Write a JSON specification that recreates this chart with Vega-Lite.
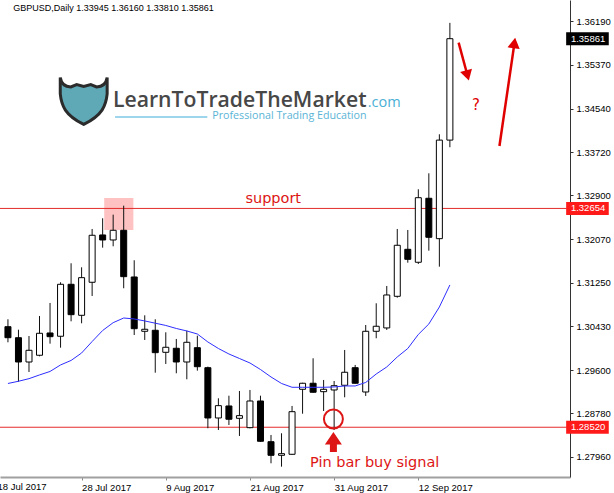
{
  "$schema": "https://vega.github.io/schema/vega-lite/v6.json",
  "width": 570,
  "height": 477,
  "autosize": {"type": "none"},
  "padding": {"left": 0, "top": 0, "right": 44, "bottom": 16},
  "background": "white",
  "config": {"view": {"stroke": null}, "axis": {"grid": false}},
  "data": {"values": [{}]},
  "resolve": {"axis": {"x": "independent", "y": "independent"}},
  "datasets": {
    "candles": [
      {"date": "2017-07-19", "i": 0, "open": 1.30420, "high": 1.30560, "low": 1.30125, "close": 1.30212, "ma": 1.29347},
      {"date": "2017-07-20", "i": 1, "open": 1.30212, "high": 1.30363, "low": 1.29381, "close": 1.29753, "ma": 1.29389},
      {"date": "2017-07-21", "i": 2, "open": 1.29753, "high": 1.30244, "low": 1.29564, "close": 1.29974, "ma": 1.29438},
      {"date": "2017-07-24", "i": 3, "open": 1.29880, "high": 1.30622, "low": 1.29860, "close": 1.30295, "ma": 1.29508},
      {"date": "2017-07-25", "i": 4, "open": 1.30301, "high": 1.30868, "low": 1.30099, "close": 1.30231, "ma": 1.29574},
      {"date": "2017-07-26", "i": 5, "open": 1.30239, "high": 1.31259, "low": 1.30023, "close": 1.31221, "ma": 1.29697},
      {"date": "2017-07-27", "i": 6, "open": 1.31221, "high": 1.31618, "low": 1.30522, "close": 1.30647, "ma": 1.29782},
      {"date": "2017-07-28", "i": 7, "open": 1.30635, "high": 1.31542, "low": 1.30484, "close": 1.31346, "ma": 1.29923},
      {"date": "2017-07-31", "i": 8, "open": 1.31259, "high": 1.32266, "low": 1.31000, "close": 1.32147, "ma": 1.30140},
      {"date": "2017-08-01", "i": 9, "open": 1.32153, "high": 1.32468, "low": 1.31913, "close": 1.32058, "ma": 1.30348},
      {"date": "2017-08-02", "i": 10, "open": 1.32058, "high": 1.32536, "low": 1.31939, "close": 1.32241, "ma": 1.30496},
      {"date": "2017-08-03", "i": 11, "open": 1.32241, "high": 1.32706, "low": 1.31146, "close": 1.31365, "ma": 1.30584},
      {"date": "2017-08-04", "i": 12, "open": 1.31359, "high": 1.31675, "low": 1.30263, "close": 1.30382, "ma": 1.30566},
      {"date": "2017-08-07", "i": 13, "open": 1.30333, "high": 1.30635, "low": 1.30169, "close": 1.30371, "ma": 1.30528},
      {"date": "2017-08-08", "i": 14, "open": 1.30352, "high": 1.30560, "low": 1.29551, "close": 1.29929, "ma": 1.30486},
      {"date": "2017-08-09", "i": 15, "open": 1.29936, "high": 1.30314, "low": 1.29715, "close": 1.30031, "ma": 1.30443},
      {"date": "2017-08-10", "i": 16, "open": 1.30012, "high": 1.30188, "low": 1.29540, "close": 1.29753, "ma": 1.30386},
      {"date": "2017-08-11", "i": 17, "open": 1.29753, "high": 1.30345, "low": 1.29426, "close": 1.30125, "ma": 1.30339},
      {"date": "2017-08-14", "i": 18, "open": 1.30023, "high": 1.30250, "low": 1.29589, "close": 1.29664, "ma": 1.30282},
      {"date": "2017-08-15", "i": 19, "open": 1.29645, "high": 1.29665, "low": 1.28501, "close": 1.28695, "ma": 1.30131},
      {"date": "2017-08-16", "i": 20, "open": 1.28695, "high": 1.29067, "low": 1.28468, "close": 1.28928, "ma": 1.30008},
      {"date": "2017-08-17", "i": 21, "open": 1.28922, "high": 1.29116, "low": 1.28563, "close": 1.28671, "ma": 1.29904},
      {"date": "2017-08-18", "i": 22, "open": 1.28689, "high": 1.29205, "low": 1.28355, "close": 1.28739, "ma": 1.29819},
      {"date": "2017-08-21", "i": 23, "open": 1.28512, "high": 1.29224, "low": 1.28500, "close": 1.29016, "ma": 1.29734},
      {"date": "2017-08-22", "i": 24, "open": 1.29016, "high": 1.29116, "low": 1.28245, "close": 1.28255, "ma": 1.29611},
      {"date": "2017-08-23", "i": 25, "open": 1.28247, "high": 1.28374, "low": 1.27839, "close": 1.27990, "ma": 1.29470},
      {"date": "2017-08-24", "i": 26, "open": 1.27990, "high": 1.28406, "low": 1.27775, "close": 1.28021, "ma": 1.29347},
      {"date": "2017-08-25", "i": 27, "open": 1.28009, "high": 1.28922, "low": 1.28000, "close": 1.28814, "ma": 1.29275},
      {"date": "2017-08-28", "i": 28, "open": 1.29237, "high": 1.29360, "low": 1.28776, "close": 1.29351, "ma": 1.29275},
      {"date": "2017-08-29", "i": 29, "open": 1.29351, "high": 1.29823, "low": 1.29175, "close": 1.29181, "ma": 1.29275},
      {"date": "2017-08-30", "i": 30, "open": 1.29192, "high": 1.29413, "low": 1.28827, "close": 1.29237, "ma": 1.29275},
      {"date": "2017-08-31", "i": 31, "open": 1.29224, "high": 1.29394, "low": 1.28468, "close": 1.29305, "ma": 1.29281},
      {"date": "2017-09-01", "i": 32, "open": 1.29313, "high": 1.29980, "low": 1.29086, "close": 1.29559, "ma": 1.29300},
      {"date": "2017-09-04", "i": 33, "open": 1.29645, "high": 1.29697, "low": 1.29345, "close": 1.29351, "ma": 1.29300},
      {"date": "2017-09-05", "i": 34, "open": 1.29186, "high": 1.30452, "low": 1.29111, "close": 1.30333, "ma": 1.29366},
      {"date": "2017-09-06", "i": 35, "open": 1.30333, "high": 1.30862, "low": 1.30201, "close": 1.30428, "ma": 1.29526},
      {"date": "2017-09-07", "i": 36, "open": 1.30396, "high": 1.31189, "low": 1.30358, "close": 1.31019, "ma": 1.29659},
      {"date": "2017-09-08", "i": 37, "open": 1.30994, "high": 1.32266, "low": 1.30968, "close": 1.31958, "ma": 1.29848},
      {"date": "2017-09-11", "i": 38, "open": 1.31882, "high": 1.32247, "low": 1.31629, "close": 1.31693, "ma": 1.30008},
      {"date": "2017-09-12", "i": 39, "open": 1.31637, "high": 1.33016, "low": 1.31605, "close": 1.32857, "ma": 1.30273},
      {"date": "2017-09-13", "i": 40, "open": 1.32846, "high": 1.33318, "low": 1.31856, "close": 1.32109, "ma": 1.30471},
      {"date": "2017-09-14", "i": 41, "open": 1.32083, "high": 1.34055, "low": 1.31554, "close": 1.33945, "ma": 1.30792},
      {"date": "2017-09-15", "i": 42, "open": 1.33945, "high": 1.36160, "low": 1.33810, "close": 1.35861, "ma": 1.31208}
    ],
    "levels": [{"level": 1.32654}, {"level": 1.28520}]
  },
  "layer": [
    {
      "mark": {"type": "rect", "color": "#ffc2c2"},
      "encoding": {
        "x": {"datum": 9.15, "type": "quantitative", "axis": null},
        "x2": {"datum": 11.92},
        "y": {"datum": 1.32852, "type": "quantitative", "axis": null},
        "y2": {"datum": 1.32247}
      }
    },
    {
      "data": {"name": "levels"},
      "mark": {"type": "rule", "color": "#e32b2b", "strokeWidth": 1},
      "encoding": {"y": {"field": "level", "type": "quantitative", "axis": null}}
    },
    {
      "data": {"name": "candles"},
      "mark": {"type": "rule", "color": "#111111", "strokeWidth": 1},
      "encoding": {
        "x": {"field": "i", "type": "quantitative", "title": null,
          "scale": {"domain": [-0.28, 52.94], "nice": false, "zero": false},
          "axis": {"orient": "bottom", "values": [7, 15, 23, 31, 39],
            "labelExpr": "datum.value == 7 ? '28 Jul 2017' : datum.value == 15 ? '9 Aug 2017' : datum.value == 23 ? '21 Aug 2017' : datum.value == 31 ? '31 Aug 2017' : '12 Sep 2017'",
            "labelAlign": "left", "labelFlush": false, "labelOverlap": false, "labelFont": "Liberation Sans", "labelFontSize": 9.5, "labelColor": "#000000",
            "labelPadding": 2, "tickSize": 3, "tickColor": "#888888", "domainColor": "#a0a0a0", "domainWidth": 2}},
        "y": {"field": "low", "type": "quantitative", "title": null,
          "scale": {"domain": [1.2758, 1.36592], "nice": false, "zero": false},
          "axis": {"orient": "right", "values": [1.2796, 1.2878, 1.296, 1.3043, 1.3125, 1.3207, 1.329, 1.3372, 1.3454, 1.3537, 1.3619],
            "format": ".5f", "labelFont": "Liberation Sans", "labelFontSize": 9.5, "labelColor": "#000000", "labelFlush": false, "labelOverlap": false,
            "labelPadding": 3, "tickSize": 3, "tickColor": "#333333", "domainColor": "#333333", "domainWidth": 1}},
        "y2": {"field": "high"}
      }
    },
    {
      "data": {"name": "candles"},
      "mark": {"type": "bar", "width": 6, "stroke": "#000000", "strokeWidth": 1},
      "encoding": {
        "x": {"field": "i", "type": "quantitative", "axis": null},
        "y": {"field": "open", "type": "quantitative", "axis": null},
        "y2": {"field": "close"},
        "fill": {"condition": {"test": "datum.close >= datum.open", "value": "#ffffff"}, "value": "#000000"}
      }
    },
    {
      "data": {"name": "candles"},
      "mark": {"type": "line", "color": "#2e2eff", "strokeWidth": 1},
      "encoding": {
        "x": {"field": "i", "type": "quantitative", "axis": null},
        "y": {"field": "ma", "type": "quantitative", "axis": null}
      }
    },
    {
      "mark": {"type": "point", "shape": "M -1 -1 C -0.95 -0.7 -0.8 -0.6 -0.55 -0.6 L -0.3 -0.7 L 0 -0.62 L 0.3 -0.7 L 0.55 -0.6 C 0.8 -0.6 0.95 -0.7 1 -1 L 1 -0.3 C 0.95 0.2 0.8 0.6 0 1 C -0.8 0.6 -0.95 0.2 -1 -0.3 Z", "size": 2200, "filled": true, "fill": "#5fa8b6", "stroke": "#2b2b2b", "strokeWidth": 3, "opacity": 1},
      "encoding": {"x": {"datum": 7.2, "axis": null}, "y": {"datum": 1.34684, "axis": null}}
    },
    {
      "mark": {"type": "text", "text": "LearnToTradeTheMarket", "font": "Open Sans", "fontWeight": 600, "fontSize": 21.2, "color": "#474747", "align": "right", "baseline": "alphabetic"},
      "encoding": {"x": {"datum": 34.08, "axis": null}, "y": {"datum": 1.34571, "axis": null}}
    },
    {
      "mark": {"type": "text", "text": ".com", "font": "Open Sans", "fontSize": 14.5, "color": "#4bb0d5", "align": "left", "baseline": "alphabetic"},
      "encoding": {"x": {"datum": 34.2, "axis": null}, "y": {"datum": 1.34571, "axis": null}}
    },
    {
      "mark": {"type": "text", "text": "Professional Trading Education", "font": "Open Sans", "fontSize": 10.7, "color": "#5ab4d6", "align": "right", "baseline": "alphabetic"},
      "encoding": {"x": {"datum": 34.08, "axis": null}, "y": {"datum": 1.34344, "axis": null}}
    },
    {
      "mark": {"type": "rule", "color": "#7cc8e6", "strokeWidth": 1.5},
      "encoding": {"x": {"datum": 10.18, "axis": null}, "x2": {"datum": 18.95}, "y": {"datum": 1.34382, "axis": null}}
    },
    {
      "mark": {"type": "text", "text": "GBPUSD,Daily  1.33945 1.36160 1.33810 1.35861", "font": "Liberation Sans", "fontSize": 9, "color": "#000000", "align": "left", "baseline": "alphabetic"},
      "encoding": {"x": {"datum": 0.5, "axis": null}, "y": {"datum": 1.36385, "axis": null}}
    },
    {
      "mark": {"type": "text", "text": "support", "font": "DejaVu Sans", "fontSize": 14.5, "color": "#dd1515", "align": "center", "baseline": "alphabetic"},
      "encoding": {"x": {"datum": 25.21, "axis": null}, "y": {"datum": 1.32763, "axis": null}}
    },
    {
      "mark": {"type": "text", "text": "Pin bar buy signal", "font": "DejaVu Sans", "fontSize": 14.5, "color": "#dd1515", "align": "center", "baseline": "alphabetic"},
      "encoding": {"x": {"datum": 34.85, "axis": null}, "y": {"datum": 1.27775, "axis": null}}
    },
    {
      "mark": {"type": "point", "shape": "circle", "size": 360, "filled": false, "stroke": "#dd1515", "strokeWidth": 2, "opacity": 1},
      "encoding": {"x": {"datum": 30.93, "axis": null}, "y": {"datum": 1.28676, "axis": null}}
    },
    {
      "mark": {"type": "point", "shape": "M 0 -1 L 0.85 0.25 L 0.35 0.25 L 0.35 1 L -0.35 1 L -0.35 0.25 L -0.85 0.25 Z", "size": 400, "filled": true, "fill": "#dd1515", "strokeWidth": 0, "opacity": 1},
      "encoding": {"x": {"datum": 30.93, "axis": null}, "y": {"datum": 1.28242, "axis": null}}
    },
    {
      "mark": {"type": "rule", "color": "#e00000", "strokeWidth": 2.5},
      "encoding": {"x": {"datum": 42.83, "axis": null}, "x2": {"datum": 43.56}, "y": {"datum": 1.35786, "axis": null}, "y2": {"datum": 1.35251}}
    },
    {
      "mark": {"type": "point", "shape": "triangle-up", "size": 150, "angle": 164.5, "filled": true, "fill": "#e00000", "strokeWidth": 0, "opacity": 1},
      "encoding": {"x": {"datum": 43.67, "axis": null}, "y": {"datum": 1.35166, "axis": null}}
    },
    {
      "mark": {"type": "rule", "color": "#e00000", "strokeWidth": 2.5},
      "encoding": {"x": {"datum": 46.71, "axis": null}, "x2": {"datum": 48.11}, "y": {"datum": 1.33834, "axis": null}, "y2": {"datum": 1.35742}}
    },
    {
      "mark": {"type": "point", "shape": "triangle-up", "size": 150, "angle": 8.4, "filled": true, "fill": "#e00000", "strokeWidth": 0, "opacity": 1},
      "encoding": {"x": {"datum": 48.13, "axis": null}, "y": {"datum": 1.3578, "axis": null}}
    },
    {
      "mark": {"type": "text", "text": "?", "font": "DejaVu Sans", "fontSize": 15, "color": "#e00000", "align": "center", "baseline": "middle"},
      "encoding": {"x": {"datum": 44.47, "axis": null}, "y": {"datum": 1.34609, "axis": null}}
    },
    {
      "mark": {"type": "rect", "color": "#000000"},
      "encoding": {"x": {"datum": 53.05, "axis": null}, "x2": {"datum": 57.1}, "y": {"datum": 1.35738, "axis": null}, "y2": {"datum": 1.35984}}
    },
    {
      "mark": {"type": "text", "text": "1.35861", "font": "Liberation Sans", "fontSize": 9.5, "color": "#ffffff", "align": "left", "baseline": "middle"},
      "encoding": {"x": {"datum": 53.5, "axis": null}, "y": {"datum": 1.35861, "axis": null}}
    },
    {
      "mark": {"type": "rect", "color": "#ff1a1a"},
      "encoding": {"x": {"datum": 53.05, "axis": null}, "x2": {"datum": 57.1}, "y": {"datum": 1.32531, "axis": null}, "y2": {"datum": 1.32777}}
    },
    {
      "mark": {"type": "text", "text": "1.32654", "font": "Liberation Sans", "fontSize": 9.5, "color": "#ffffff", "align": "left", "baseline": "middle"},
      "encoding": {"x": {"datum": 53.5, "axis": null}, "y": {"datum": 1.32654, "axis": null}}
    },
    {
      "mark": {"type": "rect", "color": "#ff1a1a"},
      "encoding": {"x": {"datum": 53.05, "axis": null}, "x2": {"datum": 57.1}, "y": {"datum": 1.28397, "axis": null}, "y2": {"datum": 1.28643}}
    },
    {
      "mark": {"type": "text", "text": "1.28520", "font": "Liberation Sans", "fontSize": 9.5, "color": "#ffffff", "align": "left", "baseline": "middle"},
      "encoding": {"x": {"datum": 53.5, "axis": null}, "y": {"datum": 1.2852, "axis": null}}
    },
    {
      "mark": {"type": "text", "text": "18 Jul 2017", "font": "Liberation Sans", "fontSize": 9.5, "color": "#000000", "align": "left", "baseline": "top"},
      "encoding": {"x": {"datum": -1, "axis": null}, "y": {"datum": 1.27486, "axis": null}}
    }
  ]
}
